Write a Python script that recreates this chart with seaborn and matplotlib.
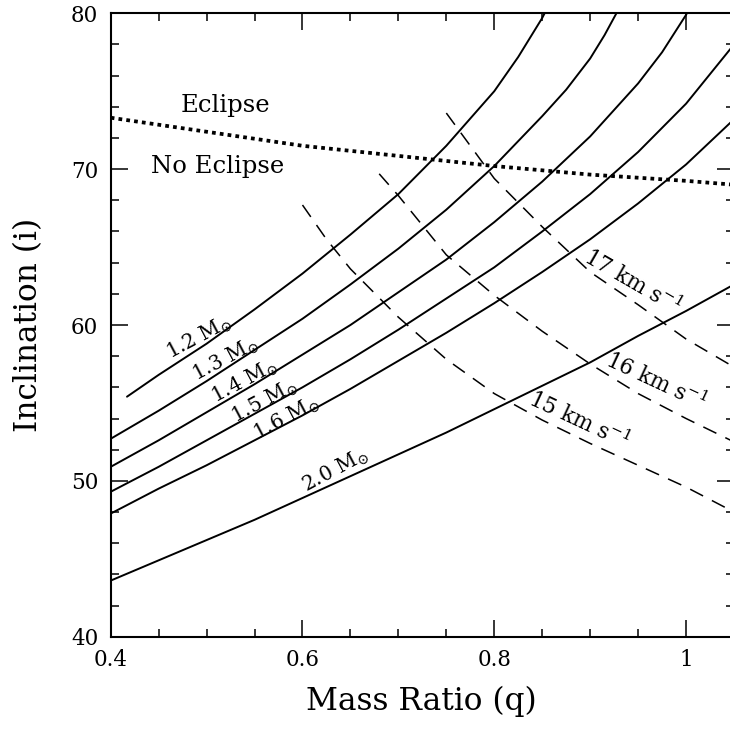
import matplotlib
matplotlib.use("Agg")
import matplotlib.pyplot as plt
import seaborn as sns
import numpy as np
import pandas as pd

# ---- data ----
q_grid = [0.40, 0.45, 0.50, 0.55, 0.60, 0.65, 0.70, 0.75, 0.80, 0.85, 0.90, 0.95, 1.00, 1.05]

q_m12 = [0.417, 0.45, 0.50, 0.55, 0.60, 0.65, 0.70, 0.75, 0.80, 0.825, 0.85, 0.86]
i_m12 = [55.4, 56.8, 58.8, 61.0, 63.3, 65.8, 68.4, 71.5, 75.0, 77.2, 79.7, 80.9]

q_m13 = [0.40, 0.45, 0.50, 0.55, 0.60, 0.65, 0.70, 0.75, 0.80, 0.85, 0.875, 0.90, 0.915, 0.93]
i_m13 = [52.7, 54.5, 56.4, 58.4, 60.4, 62.6, 64.9, 67.4, 70.2, 73.4, 75.1, 77.1, 78.6, 80.3]

q_m14 = [0.40, 0.45, 0.50, 0.55, 0.60, 0.65, 0.70, 0.75, 0.80, 0.85, 0.90, 0.95, 0.975, 1.00, 1.02]
i_m14 = [50.9, 52.6, 54.4, 56.2, 58.1, 60.0, 62.1, 64.2, 66.6, 69.2, 72.1, 75.5, 77.5, 79.9, 82.3]

i_m15 = [49.3, 50.9, 52.6, 54.3, 56.0, 57.8, 59.7, 61.7, 63.7, 66.0, 68.4, 71.1, 74.2, 78.0]
i_m16 = [47.9, 49.5, 51.0, 52.6, 54.2, 55.9, 57.7, 59.5, 61.4, 63.4, 65.5, 67.8, 70.3, 73.2]
i_m20 = [43.6, 44.9, 46.2, 47.5, 48.9, 50.3, 51.7, 53.1, 54.6, 56.1, 57.6, 59.3, 60.9, 62.6]

q_k15 = [0.60, 0.625, 0.65, 0.70, 0.75, 0.80, 0.85, 0.90, 0.95, 1.00, 1.05]
i_k15 = [67.7, 65.5, 63.6, 60.5, 57.8, 55.6, 53.9, 52.4, 51.0, 49.6, 48.0]

q_k16 = [0.68, 0.70, 0.75, 0.80, 0.85, 0.90, 0.95, 1.00, 1.05]
i_k16 = [69.7, 68.3, 64.5, 61.9, 59.6, 57.5, 55.6, 54.0, 52.5]

q_k17 = [0.75, 0.775, 0.80, 0.85, 0.90, 0.95, 1.00, 1.05]
i_k17 = [73.6, 71.5, 69.4, 66.3, 63.4, 61.3, 59.1, 57.3]

q_ecl = [0.40, 0.50, 0.60, 0.70, 0.80, 0.90, 1.00, 1.05]
i_ecl = [73.3, 72.4, 71.5, 70.85, 70.2, 69.65, 69.25, 69.0]

mass_labels = ["1.2", "1.3", "1.4", "1.5", "1.6", "2.0"]
k_labels = ["17", "16", "15"]
x_ticks = [0.4, 0.6, 0.8, 1.0]
x_ticklabels = ["0.4", "0.6", "0.8", "1"]
y_ticks = [40, 50, 60, 70, 80]

# ---- style ----
sns.set_style("ticks")
plt.rcParams["font.family"] = ["DejaVu Serif", "DejaVu Sans"]
plt.rcParams["mathtext.fontset"] = "dejavuserif"
for k in ["text.color", "axes.labelcolor", "xtick.color", "ytick.color", "axes.edgecolor"]:
    plt.rcParams[k] = "black"

fig = plt.figure(figsize=(7.30, 7.29), dpi=100)
ax = fig.add_axes([110.7 / 730, (729 - 636.7) / 729, (734 - 110.7) / 730, (636.7 - 13.3) / 729])

solid_kw = dict(color="black", linewidth=1.4, estimator=None, sort=False, ax=ax, legend=False)

solid_sets = [
    (q_m12, i_m12), (q_m13, i_m13), (q_m14, i_m14),
    (q_grid, i_m15), (q_grid, i_m16), (q_grid, i_m20),
]
for qs, ii in solid_sets:
    sns.lineplot(x=qs, y=ii, **solid_kw)

for qs, ii in [(q_k15, i_k15), (q_k16, i_k16), (q_k17, i_k17)]:
    sns.lineplot(x=qs, y=ii, color="black", linewidth=1.1, linestyle=(0, (9.5, 6.5)),
                 estimator=None, sort=False, ax=ax, legend=False)

sns.lineplot(x=q_ecl, y=i_ecl, color="black", linewidth=2.7, linestyle=(0, (1, 1.1)),
             estimator=None, sort=False, ax=ax, legend=False)
for l in ax.lines:
    l.set_dash_capstyle("butt")

ax.set_xlim(0.4, 1.05)
ax.set_ylim(40, 80)

# ---- text labels ----
mass_pos = [(0.492, 59.2), (0.5193, 57.82), (0.5391, 56.36), (0.560, 55.08), (0.583, 54.03), (0.634, 50.70)]
for lab, (x, y) in zip(mass_labels, mass_pos):
    ax.text(x, y, lab + r" M$_{\odot}$", rotation=28, ha="center", va="center",
            rotation_mode="anchor", fontsize=14.5)

k_pos = [(0.9436, 62.78, -30), (0.968, 56.36, -25), (0.888, 53.86, -25)]
for lab, (x, y, r) in zip(k_labels, k_pos):
    ax.text(x, y, lab + r" km s$^{-1}$", rotation=r, ha="center", va="center",
            rotation_mode="anchor", fontsize=15.5)

ax.text(0.520, 74.06, "Eclipse", ha="center", va="center", fontsize=17.5)
ax.text(0.5114, 70.2, "No Eclipse", ha="center", va="center", fontsize=17.5)

# ---- axes ----
ax.set_xticks(x_ticks)
ax.set_xticklabels(x_ticklabels)
ax.set_yticks(y_ticks)
ax.xaxis.set_minor_locator(matplotlib.ticker.MultipleLocator(0.05))
ax.yaxis.set_minor_locator(matplotlib.ticker.MultipleLocator(2))
ax.tick_params(which="both", direction="in", top=True, right=True, color="black", width=1.1)
ax.tick_params(which="major", length=12.2, labelsize=15.5, pad=9)
ax.tick_params(which="minor", length=6.1)
for s in ax.spines.values():
    s.set_linewidth(1.5)
    s.set_color("black")

ax.set_xlabel("Mass Ratio (q)", fontsize=22.5)
ax.set_ylabel("Inclination (i)", fontsize=22.5)
ax.xaxis.set_label_coords(0.499, -0.078)
ax.yaxis.set_label_coords(-0.107, 0.5)

fig.savefig("out.png", dpi=100)
